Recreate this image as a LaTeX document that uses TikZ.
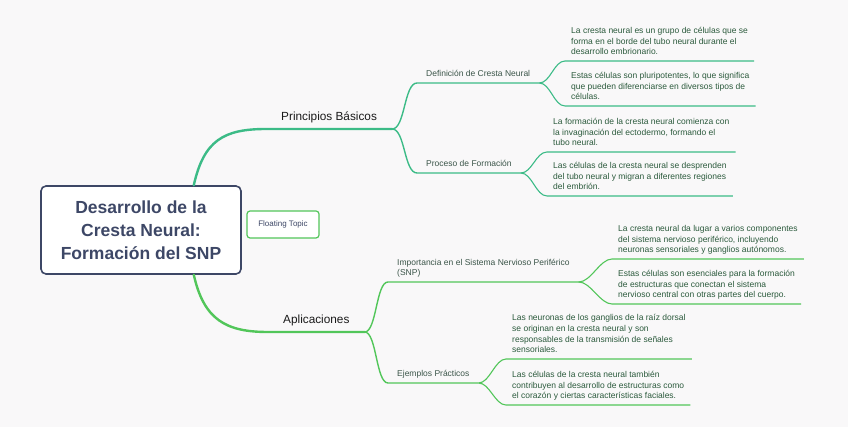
\documentclass[tikz,border=0pt]{standalone}
\usepackage{fontspec}
\setmainfont{Liberation Sans}
\definecolor{bgcol}{HTML}{F9F8F9}
\definecolor{slate}{HTML}{3D4766}
\definecolor{tealbranch}{HTML}{3CBB87}
\definecolor{greenbranch}{HTML}{52C65A}
\definecolor{topictext}{HTML}{1A1A1A}
\definecolor{subtext}{HTML}{3B5549}
\definecolor{leaftext}{HTML}{2B5A3C}
\begin{document}
\begin{tikzpicture}[x=1pt,y=-1pt,
  centre/.style={draw=slate,line width=1.6pt,fill=white,rounded corners=5pt,minimum width=200pt,minimum height=88pt,align=center,text=slate,font=\fontsize{17.5}{23}\selectfont\bfseries},
  floating/.style={draw=greenbranch,line width=1.2pt,fill=white,rounded corners=3pt,minimum width=72pt,minimum height=27pt,text=slate,font=\fontsize{8}{9}\selectfont},
  topic/.style={anchor=south west,inner xsep=15pt,inner ysep=6pt,text height=8pt,text depth=2.5pt,text=topictext,font=\fontsize{11.8}{13}\selectfont},
  subtopic/.style={anchor=south west,inner xsep=9pt,inner ysep=4pt,text depth=2pt,align=left,text=subtext,font=\fontsize{8.5}{10.7}\selectfont},
  leaf/.style={anchor=south west,inner xsep=6pt,inner ysep=4pt,text depth=2pt,align=left,text=leaftext,font=\fontsize{8.5}{10.7}\selectfont},
  mainline/.style={line width=2.4pt,line cap=round},
  subline/.style={line width=1.4pt},
  leafline/.style={line width=1.1pt}]
\fill[bgcol] (0,0) rectangle (848,427);
\useasboundingbox (0,0) rectangle (848,427);

\node[centre] (centre) at (141,230) {Desarrollo de la\\Cresta Neural:\\Formación del SNP};
\node[floating] (float) at (283,224.5) {Floating Topic};

\node[topic] (prin) at (266,129) {Principios Básicos};
\node[topic] (apl) at (268,332) {Aplicaciones};

\node[subtopic] (def) at (417,83) {Definición de Cresta Neural};
\node[subtopic] (proc) at (417,173) {Proceso de Formación};
\node[subtopic] (imp) at (388,282) {Importancia en el Sistema Nervioso Periférico\\(SNP)};
\node[subtopic] (ej) at (388,383) {Ejemplos Prácticos};

\node[leaf] (def1) at (565,61) {La cresta neural es un grupo de células que se\\forma en el borde del tubo neural durante el\\desarrollo embrionario.};
\node[leaf] (def2) at (565,106) {Estas células son pluripotentes, lo que significa\\que pueden diferenciarse en diversos tipos de\\células.};
\node[leaf] (proc1) at (547,152) {La formación de la cresta neural comienza con\\la invaginación del ectodermo, formando el\\tubo neural.};
\node[leaf] (proc2) at (547,196) {Las células de la cresta neural se desprenden\\del tubo neural y migran a diferentes regiones\\del embrión.};
\node[leaf] (imp1) at (612,259) {La cresta neural da lugar a varios componentes\\del sistema nervioso periférico, incluyendo\\neuronas sensoriales y ganglios autónomos.};
\node[leaf] (imp2) at (612,304) {Estas células son esenciales para la formación\\de estructuras que conectan el sistema\\nervioso central con otras partes del cuerpo.};
\node[leaf] (ej1) at (506,359) {Las neuronas de los ganglios de la raíz dorsal\\se originan en la cresta neural y son\\responsables de la transmisión de señales\\sensoriales.};
\node[leaf] (ej2) at (506,405) {Las células de la cresta neural también\\contribuyen al desarrollo de estructuras como\\el corazón y ciertas características faciales.};

% main branches
\draw[tealbranch,mainline] ([xshift=-48pt]centre.north east) .. controls +(10,-45) and +(-42,0) .. (prin.south west) -- (prin.south east);
\draw[greenbranch,mainline] ([xshift=-48pt]centre.south east) .. controls +(10,45) and +(-42,0) .. (apl.south west) -- (apl.south east);

\draw[tealbranch,subline] (prin.south east) .. controls +(13,0) and +(-13,0) .. (def.south west) -- (def.south east);
\draw[tealbranch,subline] (prin.south east) .. controls +(13,0) and +(-13,0) .. (proc.south west) -- (proc.south east);
\draw[greenbranch,subline] (apl.south east) .. controls +(12,0) and +(-12,0) .. (imp.south west) -- (imp.south east);
\draw[greenbranch,subline] (apl.south east) .. controls +(12,0) and +(-12,0) .. (ej.south west) -- (ej.south east);

\draw[tealbranch,leafline] (def.south east) .. controls +(11,0) and +(-11,0) .. (def1.south west) -- (def1.south east);
\draw[tealbranch,leafline] (def.south east) .. controls +(11,0) and +(-11,0) .. (def2.south west) -- (def2.south east);
\draw[tealbranch,leafline] (proc.south east) .. controls +(11,0) and +(-11,0) .. (proc1.south west) -- (proc1.south east);
\draw[tealbranch,leafline] (proc.south east) .. controls +(11,0) and +(-11,0) .. (proc2.south west) -- (proc2.south east);
\draw[greenbranch,leafline] (imp.south east) .. controls +(12,0) and +(-12,0) .. (imp1.south west) -- (imp1.south east);
\draw[greenbranch,leafline] (imp.south east) .. controls +(12,0) and +(-12,0) .. (imp2.south west) -- (imp2.south east);
\draw[greenbranch,leafline] (ej.south east) .. controls +(11,0) and +(-11,0) .. (ej1.south west) -- (ej1.south east);
\draw[greenbranch,leafline] (ej.south east) .. controls +(11,0) and +(-11,0) .. (ej2.south west) -- (ej2.south east);
\end{tikzpicture}
\end{document}
